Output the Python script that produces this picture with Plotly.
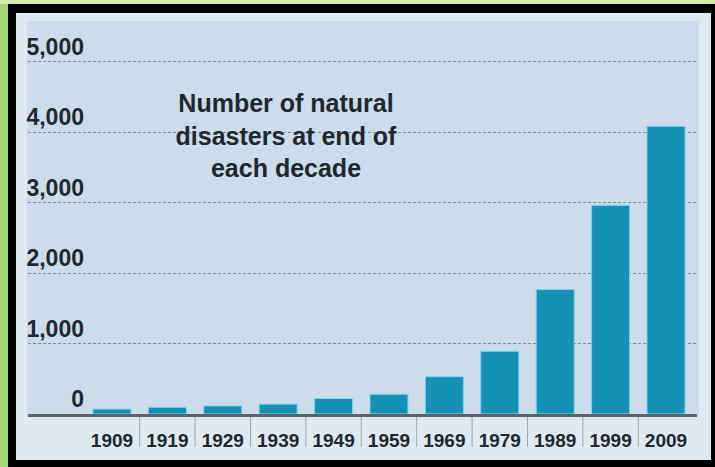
import plotly.graph_objects as go

# ---- data ----
years = ["1909", "1919", "1929", "1939", "1949", "1959", "1969", "1979", "1989", "1999", "2009"]
disasters = [70, 95, 115, 140, 220, 280, 530, 890, 1765, 2960, 4080]
y_tick_values = [0, 1000, 2000, 3000, 4000, 5000]
y_tick_labels = ["0", "1,000", "2,000", "3,000", "4,000", "5,000"]
title_lines = ["Number of natural", "disasters at end of", "each decade"]

# ---- geometry helpers (pixel -> paper) ----
W, H = 715, 467
L, R, T, B = 28, 18, 30, 53
PW, PH = W - L - R, H - T - B


def px(x):
    return (x - L) / PW


def py(y):
    return (H - B - y) / PH


FONT = "Liberation Sans, Arial, sans-serif"
TXT = "#20272e"

fig = go.Figure(
    go.Bar(
        x=years,
        y=disasters,
        marker=dict(color="#1591b6", line=dict(color="#7dd4ef", width=1)),
        hoverinfo="x+y",
    )
)

shapes = [
    # lighter top strip of the green border
    dict(type="rect", xref="paper", yref="paper", x0=px(0), x1=px(W), y0=py(4), y1=py(0),
         fillcolor="#d2eaae", line_width=0, layer="below"),
    # black frame
    dict(type="rect", xref="paper", yref="paper", x0=px(8), x1=px(W), y0=py(H), y1=py(4),
         fillcolor="#000000", line_width=0, layer="below"),
    # light outer panel
    dict(type="rect", xref="paper", yref="paper", x0=px(16), x1=px(711), y0=py(460), y1=py(13),
         fillcolor="#e0e9f0", line_width=0, layer="below"),
    # inner chart panel
    dict(type="rect", xref="paper", yref="paper", x0=px(27), x1=px(699), y0=py(417), y1=py(21),
         fillcolor="#cddcea", line_width=0, layer="below"),
]
# separators between category labels
for i in range(len(years) - 1):
    shapes.append(dict(type="line", xref="x", yref="paper", x0=i + 0.5, x1=i + 0.5,
                       y0=-3 / PH, y1=-33 / PH, line=dict(color="#9aa3aa", width=1)))

fig.update_layout(
    width=W,
    height=H,
    margin=dict(l=L, r=R, t=T, b=B, pad=0, autoexpand=False),
    paper_bgcolor="#a4d572",
    plot_bgcolor="rgba(0,0,0,0)",
    showlegend=False,
    bargap=0.314,
    shapes=shapes,
    title=dict(
        text="<br>".join(title_lines),
        x=286 / W,
        xanchor="center",
        xref="container",
        y=1 - 112 / H,
        yanchor="top",
        yref="container",
        font=dict(family=FONT, size=25, color=TXT, weight="bold"),
    ),
    xaxis=dict(
        type="category",
        range=[-1.516, 10.56],
        automargin=False,
        showgrid=False,
        zeroline=False,
        showline=True,
        linecolor="#5d6369",
        linewidth=3,
        ticks="",
        tickangle=0,
        ticklabelstandoff=7,
        tickfont=dict(family=FONT, size=19, color=TXT, weight="bold"),
    ),
    yaxis=dict(
        range=[0, PH / 0.0705],
        automargin=False,
        tickvals=y_tick_values,
        ticktext=y_tick_labels,
        showgrid=True,
        gridcolor="#7f8c97",
        gridwidth=1,
        griddash="3px,2px",
        zeroline=False,
        showline=False,
        ticks="",
        ticklabelstandoff=-57,
        ticklabelshift=-15,
        tickfont=dict(family=FONT, size=23, color=TXT, weight="bold"),
    ),
)

fig.write_html("out.html")
